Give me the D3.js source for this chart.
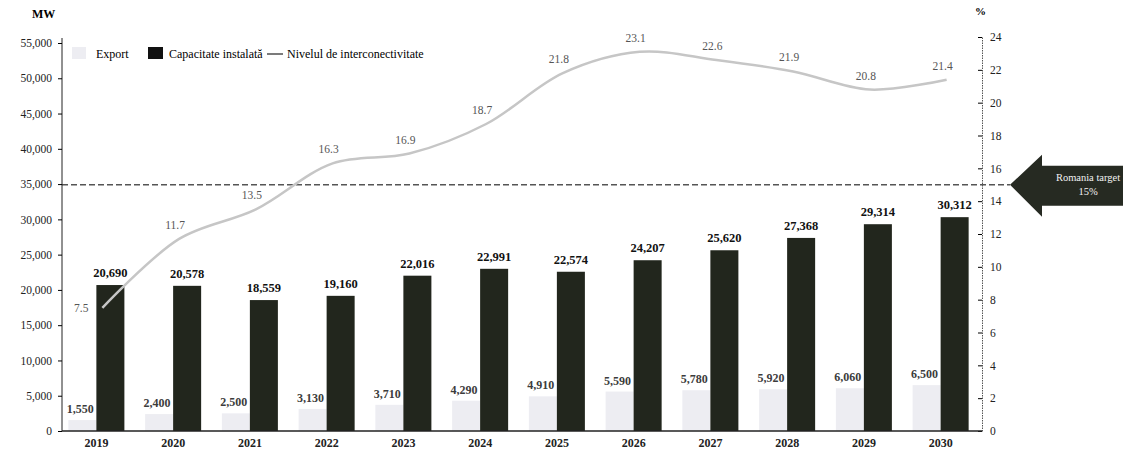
<!DOCTYPE html>
<html>
<head>
<meta charset="utf-8">
<script src="https://cdn.jsdelivr.net/npm/d3@7"></script>
<style>
  html, body { margin: 0; padding: 0; background: #fff; }
  svg { display: block; font-family: "Liberation Serif", "DejaVu Serif", serif; }
</style>
</head>
<body>
<div id="chart"></div>
<script>
// Data
const years = ["2019", "2020", "2021", "2022", "2023", "2024", "2025", "2026", "2027", "2028", "2029", "2030"];
const exportMW = [1550, 2400, 2500, 3130, 3710, 4290, 4910, 5590, 5780, 5920, 6060, 6500];
const capacityMW = [20690, 20578, 18559, 19160, 22016, 22991, 22574, 24207, 25620, 27368, 29314, 30312];
const interconnect = [7.5, 11.7, 13.5, 16.3, 16.9, 18.7, 21.8, 23.1, 22.6, 21.9, 20.8, 21.4];
const leftTicks = [0, 5000, 10000, 15000, 20000, 25000, 30000, 35000, 40000, 45000, 50000, 55000];
const rightTicks = [0, 2, 4, 6, 8, 10, 12, 14, 16, 18, 20, 22, 24];
const targetPct = 15;

const rows = years.map((y, i) => ({ year: y, export: exportMW[i], capacity: capacityMW[i], pct: interconnect[i] }));

// Dimensions
const dimensions = { width: 1123, height: 450 };

const svg = d3.select("#chart")
  .append("svg")
  .attr("width", dimensions.width)
  .attr("height", dimensions.height);

// Scales
const xScale = d3.scaleBand().domain(years).range([58, 979]);
const subScale = d3.scaleBand().domain(["export", "capacity"]).range([0, xScale.bandwidth()]).paddingOuter(0.37);
const yLeft = d3.scaleLinear().domain([0, 55000]).range([431, 43]);
const yRight = d3.scaleLinear().domain([0, 24]).range([431, 37]);

const fmt = d3.format(",");

// Bars
const groups = svg.append("g")
  .selectAll("g")
  .data(rows)
  .join("g")
  .attr("transform", (d) => `translate(${xScale(d.year)},0)`);

groups.append("rect")
  .attr("x", subScale("export"))
  .attr("y", (d) => yLeft(d.export))
  .attr("width", subScale.bandwidth())
  .attr("height", (d) => yLeft(0) - yLeft(d.export))
  .attr("fill", "#ededf2");

groups.append("rect")
  .attr("x", subScale("capacity"))
  .attr("y", (d) => yLeft(d.capacity))
  .attr("width", subScale.bandwidth())
  .attr("height", (d) => yLeft(0) - yLeft(d.capacity))
  .attr("fill", "#22261d");

groups.append("text")
  .attr("x", subScale("export") + subScale.bandwidth() / 2 - 2)
  .attr("y", (d) => yLeft(d.export) - 7)
  .attr("text-anchor", "middle")
  .attr("font-size", 12)
  .attr("font-weight", "bold")
  .attr("fill", "#3c3c3c")
  .text((d) => fmt(d.export));

groups.append("text")
  .attr("x", subScale("capacity") + subScale.bandwidth() / 2)
  .attr("y", (d) => yLeft(d.capacity) - 8)
  .attr("text-anchor", "middle")
  .attr("font-size", 12.5)
  .attr("font-weight", "bold")
  .attr("fill", "#111")
  .text((d) => fmt(d.capacity));

// Target line (15%)
svg.append("line")
  .attr("x1", 62)
  .attr("x2", 1010)
  .attr("y1", yRight(targetPct))
  .attr("y2", yRight(targetPct))
  .attr("stroke", "#555")
  .attr("stroke-width", 1.6)
  .attr("stroke-dasharray", "6,3");

// Interconnectivity line
const lineX = (d) => xScale(d.year) + xScale.bandwidth() / 2 + 6;
const lineGenerator = d3.line()
  .x(lineX)
  .y((d) => yRight(d.pct))
  .curve(d3.curveCatmullRom.alpha(0.5));

svg.append("path")
  .datum(rows)
  .attr("d", lineGenerator)
  .attr("fill", "none")
  .attr("stroke", "#c6c6c6")
  .attr("stroke-width", 2.5);

svg.append("g")
  .selectAll("text")
  .data(rows)
  .join("text")
  .attr("x", (d, i) => (i === 0 ? lineX(d) - 14 : lineX(d) - 4))
  .attr("y", (d, i) => (i === 0 ? yRight(d.pct) + 4 : yRight(d.pct) - 10))
  .attr("text-anchor", (d, i) => (i === 0 ? "end" : "middle"))
  .attr("font-size", 11.5)
  .attr("fill", "#555")
  .text((d) => d.pct.toFixed(1));

// Axes
const leftAxis = d3.axisLeft(yLeft).tickValues(leftTicks).tickFormat(fmt).tickSize(4).tickPadding(6);
svg.append("g")
  .attr("transform", "translate(62,0)")
  .call(leftAxis)
  .call((g) => g.select(".domain").attr("d", "M0,431V38").attr("stroke", "#222"))
  .call((g) => g.selectAll("text").attr("font-size", 11.5).attr("font-family", "Liberation Serif").attr("fill", "#222"));

const rightAxis = d3.axisRight(yRight).tickValues(rightTicks).tickFormat(d3.format("d")).tickSizeInner(-4).tickSizeOuter(0).tickPadding(8);
svg.append("g")
  .attr("transform", "translate(982,0)")
  .call(rightAxis)
  .call((g) => g.select(".domain").attr("stroke", "#555").attr("stroke-dasharray", "1.5,1"))
  .call((g) => g.selectAll("text").attr("font-size", 11.5).attr("font-family", "Liberation Serif").attr("fill", "#222"));

const xAxis = d3.axisBottom(xScale).tickSize(0).tickPadding(7);
svg.append("g")
  .attr("transform", "translate(0,431)")
  .call(xAxis)
  .call((g) => g.select(".domain").attr("d", "M62,0H982").attr("stroke", "#222").attr("stroke-width", 1.4))
  .call((g) => g.selectAll("text").attr("font-size", 12).attr("font-weight", "bold").attr("font-family", "Liberation Serif").attr("fill", "#222"));

// Axis titles
svg.append("text").attr("x", 32).attr("y", 18).attr("font-size", 12).attr("font-weight", "bold").text("MW");
svg.append("text").attr("x", 975).attr("y", 15).attr("font-size", 11).attr("font-weight", "bold").text("%");

// Legend
const legend = svg.append("g").attr("transform", "translate(72,54)").attr("font-size", 12);
legend.append("rect").attr("x", 0).attr("y", -7).attr("width", 14).attr("height", 12).attr("fill", "#ededf2");
legend.append("text").attr("x", 24).attr("y", 4).text("Export");
legend.append("rect").attr("x", 76).attr("y", -7).attr("width", 15).attr("height", 12).attr("fill", "#111");
legend.append("text").attr("x", 97).attr("y", 4).text("Capacitate instalată");
legend.append("line").attr("x1", 195).attr("x2", 211).attr("y1", 0).attr("y2", 0).attr("stroke", "#222").attr("stroke-width", 1.2);
legend.append("text").attr("x", 215).attr("y", 4).text("Nivelul de interconectivitate");

// Target arrow
const ay = yRight(targetPct);
const arrow = svg.append("g");
arrow.append("path")
  .attr("d", `M1010,${ay} L1042,${ay - 30} L1042,${ay - 19} L1123,${ay - 19} L1123,${ay + 21} L1042,${ay + 21} L1042,${ay + 32} Z`)
  .attr("fill", "#262a22");
arrow.append("text")
  .attr("x", 1088).attr("y", ay - 4)
  .attr("text-anchor", "middle").attr("font-size", 10.5).attr("fill", "#f2f2f2")
  .text("Romania target");
arrow.append("text")
  .attr("x", 1088).attr("y", ay + 10)
  .attr("text-anchor", "middle").attr("font-size", 10.5).attr("fill", "#f2f2f2")
  .text("15%");
</script>
</body>
</html>
